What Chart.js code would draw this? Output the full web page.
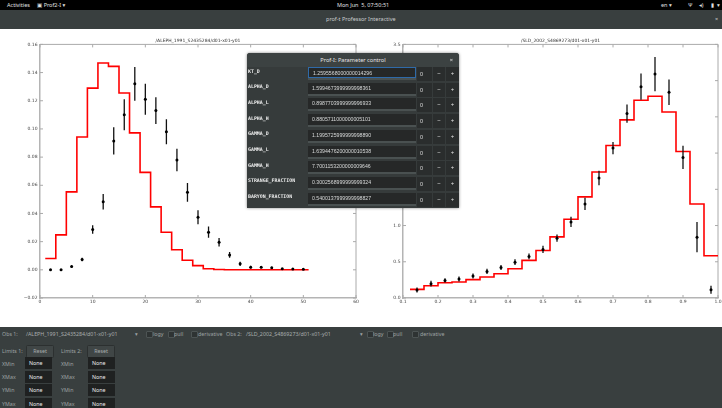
<!DOCTYPE html>
<html>
<head>
<meta charset="utf-8">
<title>prof-t Professor Interactive</title>
<script src="https://cdn.jsdelivr.net/npm/chart.js@4.4.0/dist/chart.umd.min.js"></script>
<style>
  body { margin: 0; width: 722px; height: 408px; overflow: hidden; background: #fff; position: relative; font-family: "Noto Sans", "DejaVu Sans", sans-serif; }
  .abs { position: absolute; }
  #topbar { left: 0; top: 0; width: 722px; height: 10px; background: #000; color: #e0e0e0; font-size: 5.5px; line-height: 10px; }
  #titlebar { left: 0; top: 10px; width: 722px; height: 19px; background: #393f3f; color: #c8cccc; font-size: 5.5px; line-height: 19px; }
  #leftWrap { left: 0; top: 30px; width: 370px; height: 297px; }
  #rightWrap { left: 361px; top: 30px; width: 361px; height: 297px; }
  #panel { left: 0; top: 327px; width: 722px; height: 81px; background: #393f3f; color: #9ea3a3; font-size: 5.3px; }
  .chk { position: absolute; width: 5px; height: 5px; background: #2e3333; border: 0.5px solid #4d5454; border-radius: 1px; }
  .btn { position: absolute; width: 26px; height: 11px; background: #404646; border: 0.5px solid #2c3030; border-radius: 1.5px; color: #a8adad; text-align: center; line-height: 11px; }
  .inp { position: absolute; width: 27px; height: 12px; background: #1f2121; color: #eeeeee; line-height: 12px; padding-left: 4px; box-sizing: border-box; font-size: 5.3px; }
  #dlg { left: 247px; top: 53px; width: 212px; height: 155px; background: #363b3b; border-radius: 3px 3px 0 0; box-shadow: 0 0 3px rgba(0,0,0,0.5); overflow: hidden; }
  #dlgHead { left: 0; top: 0; width: 212px; height: 14px; background: #3c4242; color: #e6e6e6; font-size: 5.6px; line-height: 14px; text-align: center; }
  .lab { position: absolute; left: 1px; font-family: "DejaVu Sans Mono", monospace; font-weight: bold; font-size: 4.9px; color: #eeeeee; }
  .ent { position: absolute; left: 61px; width: 108px; height: 11px; background: #262828; color: #d8dada; font-size: 5.2px; line-height: 11px; padding-left: 4px; box-sizing: border-box; font-family: "Liberation Sans", sans-serif; }
  .strip { position: absolute; left: 61px; width: 108px; height: 2px; background: #4a5151; }
  .cell { position: absolute; height: 14px; background: #2a2d2d; color: #e0e0e0; font-size: 6px; line-height: 14px; text-align: center; }
</style>
</head>
<body>

<div id="topbar" class="abs">
  <span class="abs" style="left:7px">Activities</span>
  <span class="abs" style="left:37px">&#9635; Prof2-I &#9662;</span>
  <span class="abs" style="left:337px">Mon Jun&nbsp; 5, 07:50:51</span>
  <span class="abs" style="left:661px">en &#9662;</span>
  <span class="abs" style="left:688px">&#936;</span>
  <span class="abs" style="left:699px">&#9666;)</span>
  <span class="abs" style="left:711px">&#9646;</span>
  <span class="abs" style="left:717px">&#9662;</span>
</div>
<div id="titlebar" class="abs">
  <span class="abs" style="left:326px">prof-t Professor Interactive</span>
  <span class="abs" style="left:715px">&#215;</span>
</div>

<div id="leftWrap" class="abs"><canvas id="leftChart" width="370" height="297"></canvas></div>
<div id="rightWrap" class="abs"><canvas id="rightChart" width="361" height="297"></canvas></div>

<div id="dlg" class="abs">
  <div id="dlgHead" class="abs">Prof-I: Parameter control<span class="abs" style="right:6px;top:0">&#215;</span></div>
</div>

<div id="panel" class="abs">
  <span class="abs" style="left:2px;top:3px">Obs 1:</span>
  <span class="abs" style="left:26px;top:3px;color:#a9aeae">/ALEPH_1991_S2435284/d01-x01-y01</span>
  <span class="abs" style="left:135px;top:3px">&#9662;</span>
  <div class="chk" style="left:146px;top:4px"></div><span class="abs" style="left:153px;top:3px">logy</span>
  <div class="chk" style="left:168px;top:4px"></div><span class="abs" style="left:174px;top:3px">pull</span>
  <div class="chk" style="left:191px;top:4px"></div><span class="abs" style="left:198px;top:3px">derivative</span>
  <span class="abs" style="left:226px;top:3px">Obs 2:</span>
  <span class="abs" style="left:246px;top:3px;color:#a9aeae">/SLD_2002_S4869273/d01-x01-y01</span>
  <span class="abs" style="left:360px;top:3px">&#9662;</span>
  <div class="chk" style="left:367px;top:4px"></div><span class="abs" style="left:373px;top:3px">logy</span>
  <div class="chk" style="left:387px;top:4px"></div><span class="abs" style="left:393px;top:3px">pull</span>
  <div class="chk" style="left:412px;top:4px"></div><span class="abs" style="left:420px;top:3px">derivative</span>

  <span class="abs" style="left:2px;top:20px">Limits 1:</span>
  <div class="btn" style="left:26px;top:18px">Reset</div>
  <span class="abs" style="left:61px;top:20px">Limits 2:</span>
  <div class="btn" style="left:87px;top:18px">Reset</div>

  <span class="abs" style="left:2px;top:33px">XMin</span>
  <div class="inp" style="left:25px;top:30px">None</div>
  <span class="abs" style="left:61px;top:33px">XMin</span>
  <div class="inp" style="left:88px;top:30px">None</div>
  <span class="abs" style="left:2px;top:46px">XMax</span>
  <div class="inp" style="left:25px;top:44px">None</div>
  <span class="abs" style="left:61px;top:46px">XMax</span>
  <div class="inp" style="left:88px;top:44px">None</div>
  <span class="abs" style="left:2px;top:59px">YMin</span>
  <div class="inp" style="left:25px;top:57px">None</div>
  <span class="abs" style="left:61px;top:59px">YMin</span>
  <div class="inp" style="left:88px;top:57px">None</div>
  <span class="abs" style="left:2px;top:73px">YMax</span>
  <div class="inp" style="left:25px;top:71px">None</div>
  <span class="abs" style="left:61px;top:73px">YMax</span>
  <div class="inp" style="left:88px;top:71px">None</div>
</div>

<script>
// ALEPH 1991 (left plot): data points, errors and MC histogram
const alephX = [2, 4, 6, 8, 10, 12, 14, 16, 18, 20, 22, 24, 26, 28, 30, 32, 34, 36, 38, 40, 42, 44, 46, 48, 50];
const alephY = [0.0000, 0.0000, 0.0023, 0.0073, 0.0286, 0.0484, 0.0915, 0.1100, 0.1320, 0.1210, 0.1130, 0.0980,
                0.0780, 0.0550, 0.0373, 0.0267, 0.0196, 0.0106, 0.0043, 0.0019, 0.0019, 0.0014, 0.0008, 0.0006, 0.0004];
const alephErr = [0.0003, 0.0003, 0.0008, 0.0012, 0.0030, 0.0055, 0.0097, 0.0110, 0.0120, 0.0110, 0.0095, 0.0088,
                  0.0080, 0.0067, 0.0050, 0.0040, 0.0030, 0.0020, 0.0015, 0.0010, 0.0008, 0.0007, 0.0005, 0.0004, 0.0004];
const alephEdges = [1, 3, 5, 7, 9, 11, 13, 15, 17, 19, 21, 23, 25, 27, 29, 31, 33, 35, 37, 39, 41, 43, 45, 47, 49, 51];
const alephMC = [0.0080, 0.0248, 0.0553, 0.0943, 0.1290, 0.1468, 0.1444, 0.1255, 0.0972, 0.0692, 0.0447, 0.0267,
                 0.0142, 0.0068, 0.0030, 0.0008, 0.0002, 0.0000, 0.0000, 0.0000, 0.0000, 0.0000, 0.0000, 0.0000, 0.0000];
const alephTicksX = [0, 10, 20, 30, 40, 50, 60];

// SLD 2002 (right plot)
const sldX = [0.14, 0.18, 0.22, 0.26, 0.30, 0.34, 0.38, 0.42, 0.46, 0.50, 0.54, 0.58, 0.62, 0.66, 0.70, 0.74, 0.78, 0.82, 0.86, 0.90, 0.94, 0.98];
const sldY = [0.110, 0.198, 0.243, 0.262, 0.303, 0.367, 0.422, 0.495, 0.574, 0.670, 0.826, 1.050,
              1.298, 1.656, 2.069, 2.545, 2.917, 3.090, 2.840, 1.940, 0.840, 0.115];
const sldErr = [0.035, 0.040, 0.030, 0.035, 0.035, 0.035, 0.035, 0.040, 0.040, 0.050, 0.050, 0.070,
                0.085, 0.100, 0.085, 0.125, 0.180, 0.235, 0.175, 0.160, 0.210, 0.055];
const sldEdges = [0.12, 0.16, 0.20, 0.24, 0.28, 0.32, 0.36, 0.40, 0.44, 0.48, 0.52, 0.56, 0.60, 0.64, 0.68, 0.72, 0.76, 0.80, 0.84, 0.88, 0.92, 0.96, 1.00];
const sldMC = [0.119, 0.170, 0.211, 0.221, 0.253, 0.289, 0.335, 0.404, 0.519, 0.656, 0.844, 1.087,
               1.395, 1.739, 2.105, 2.458, 2.729, 2.784, 2.568, 2.022, 1.298, 0.583];
const sldTicksX = [0.1, 0.2, 0.3, 0.4, 0.5, 0.6, 0.7, 0.8, 0.9, 1.0];

// parameter dialog
const paramNames = ['KT_D', 'ALPHA_D', 'ALPHA_L', 'ALPHA_H', 'GAMMA_D', 'GAMMA_L', 'GAMMA_H', 'STRANGE_FRACTION', 'BARYON_FRACTION'];
const paramValues = ['1.2595568000000014296', '1.5994673999999998361', '0.8987703999999996933', '0.8805711000000005101',
                     '1.1995725999999998890', '1.6394476200000010538', '7.7001153200000009646', '0.3002568999999999324',
                     '0.5400137999999998827'];

const dlg = document.getElementById('dlg');
paramNames.forEach((name, i) => {
    const top = 14 + i * 15.7;
    dlg.insertAdjacentHTML('beforeend', `
        <span class="lab" style="top:${top + 0.5}px">${name}</span>
        <div class="ent" style="top:${top}px;${i === 0 ? 'border:0.7px solid #2f6aa8;' : ''}">${paramValues[i]}</div>
        <div class="strip" style="top:${top + 11}px"></div>
        <div class="cell" style="left:170px;width:15px;top:${top}px;text-align:left;padding-left:3px;box-sizing:border-box;font-size:5.3px">0</div>
        <div class="cell" style="left:186px;width:12px;top:${top}px">&#8722;</div>
        <div class="cell" style="left:199px;width:13px;top:${top}px">+</div>`);
});

const FONT = 'DejaVu Sans';
const MINUS = '\u2212';

// box around plot area with inward ticks (matplotlib look)
const frame = {
    id: 'frame',
    beforeDatasetsDraw(chart) {
        const { ctx, chartArea: a, scales: { x, y } } = chart;
        ctx.save();
        ctx.strokeStyle = '#aaaaaa';
        ctx.lineWidth = 1;
        ctx.beginPath();
        ctx.moveTo(a.left, a.top);
        ctx.lineTo(a.right, a.top);
        ctx.lineTo(a.right, a.bottom);
        x.ticks.forEach(t => {
            const p = x.getPixelForValue(t.value);
            ctx.moveTo(p, a.top); ctx.lineTo(p, a.top + 3);
            ctx.moveTo(p, a.bottom); ctx.lineTo(p, a.bottom - 3);
        });
        y.ticks.forEach(t => {
            const p = y.getPixelForValue(t.value);
            ctx.moveTo(a.left, p); ctx.lineTo(a.left + 3, p);
            ctx.moveTo(a.right, p); ctx.lineTo(a.right - 3, p);
        });
        ctx.stroke();
        ctx.restore();
    }
};

function makeChart(id, opts) {
    const mc = opts.edges.map((e, i) => ({ x: e, y: opts.mc[Math.min(i, opts.mc.length - 1)] }));
    const bars = opts.xs.map((v, i) => ({ x: v, y: [opts.ys[i] - opts.errs[i], opts.ys[i] + opts.errs[i]] }));
    const pts = opts.xs.map((v, i) => ({ x: v, y: opts.ys[i] }));

    return new Chart(document.getElementById(id), {
        type: 'bar',
        data: {
            datasets: [
                { type: 'line', data: mc, stepped: true, borderColor: '#ff0000', borderWidth: 1.6, pointRadius: 0, fill: false, order: 2 },
                { type: 'bar', data: bars, backgroundColor: '#111111', barThickness: 1.3, inflateAmount: 0, borderWidth: 0, grouped: false, order: 1 },
                { type: 'line', data: pts, showLine: false, pointRadius: 1.5, pointBackgroundColor: '#000000', pointBorderWidth: 0, order: 0 }
            ]
        },
        options: {
            responsive: false,
            animation: false,
            devicePixelRatio: 1,
            events: [],
            layout: { padding: { left: 0, right: opts.padRight, top: 0, bottom: 0 } },
            plugins: {
                legend: { display: false },
                tooltip: { enabled: false },
                title: {
                    display: true,
                    text: opts.title,
                    fullSize: false,
                    color: '#333333',
                    font: { family: FONT, size: 4.5, weight: 'normal' },
                    padding: { top: 8, bottom: 1 }
                }
            },
            scales: {
                x: {
                    type: 'linear',
                    offset: false,
                    min: opts.xMin, max: opts.xMax,
                    afterBuildTicks: s => { s.ticks = opts.xTicks.map(v => ({ value: v })); },
                    ticks: { font: { family: FONT, size: 4.5 }, color: '#444444', padding: 1, maxRotation: 0, autoSkip: false, callback: opts.xFmt },
                    grid: { display: false, drawTicks: false },
                    border: { color: '#b4b4b4', width: 1.5 },
                    afterFit: s => { s.height = 29; s.paddingLeft = 0; s.paddingRight = 0; }
                },
                y: {
                    min: opts.yMin, max: opts.yMax,
                    ticks: { stepSize: opts.yStep, font: { family: FONT, size: 4.5 }, color: '#444444', padding: 2.5, callback: opts.yFmt },
                    grid: { display: false, drawTicks: false },
                    border: { color: '#b4b4b4', width: 1.5 },
                    afterFit: s => { s.width = opts.yWidth; s.paddingTop = 0; s.paddingBottom = 0; }
                }
            }
        },
        plugins: [frame]
    });
}

makeChart('leftChart', {
    xs: alephX, ys: alephY, errs: alephErr, edges: alephEdges, mc: alephMC,
    title: '/ALEPH_1991_S2435284/d01-x01-y01',
    xMin: 0, xMax: 60, xTicks: alephTicksX,
    xFmt: v => String(v),
    yMin: -0.02, yMax: 0.16, yStep: 0.02,
    yFmt: v => (Math.abs(v) < 1e-9 ? '0.00' : v.toFixed(2).replace('-', MINUS)),
    yWidth: 40, padRight: 14
});

makeChart('rightChart', {
    xs: sldX, ys: sldY, errs: sldErr, edges: sldEdges, mc: sldMC,
    title: '/SLD_2002_S4869273/d01-x01-y01',
    xMin: 0.1, xMax: 1.0, xTicks: sldTicksX,
    xFmt: v => v.toFixed(1),
    yMin: 0, yMax: 3.5, yStep: 0.5,
    yFmt: v => v.toFixed(1),
    yWidth: 42, padRight: 0
});
</script>
</body>
</html>
